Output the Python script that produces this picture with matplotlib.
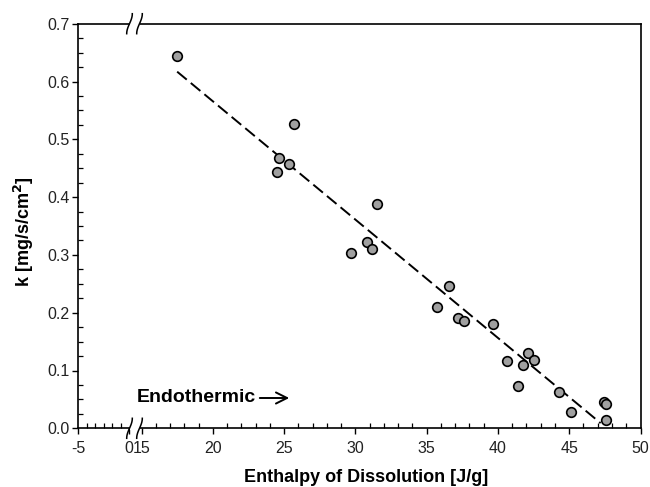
import numpy as np
import matplotlib
matplotlib.use("Agg")
import matplotlib.pyplot as plt
from matplotlib.ticker import FixedLocator, FixedFormatter

plt.rcParams['font.family'] = ['Liberation Sans', 'DejaVu Sans']

# ---- data ----
enthalpy = [17.51, 25.70, 24.67, 25.37, 24.49, 31.51, 30.85, 31.15, 29.70,
            36.60, 35.72, 37.23, 37.65, 39.65, 42.14, 42.54, 40.65, 41.75,
            41.40, 44.28, 45.12, 47.46, 47.60, 47.60]
k_rate = [0.644, 0.526, 0.467, 0.458, 0.443, 0.388, 0.323, 0.311, 0.304,
          0.247, 0.210, 0.191, 0.185, 0.181, 0.130, 0.118, 0.116, 0.110,
          0.074, 0.062, 0.029, 0.045, 0.042, 0.014]
fit_x = [17.5, 47.2]
fit_y = [0.617, 0.009]

x_major = [-5, 0, 15, 20, 25, 30, 35, 40, 45, 50]
x_labels = ['-5', '0', '15', '20', '25', '30', '35', '40', '45', '50']
y_major = [0.0, 0.1, 0.2, 0.3, 0.4, 0.5, 0.6, 0.7]
y_labels = ['0.0', '0.1', '0.2', '0.3', '0.4', '0.5', '0.6', '0.7']

# ---- broken x scale ----
U0 = 14.123     # position of x=0 in scale units
SL = 0.7116     # compression of the left (-5..0) segment
GAP = 15 - U0

def fwd(x):
    x = np.asarray(x, dtype=float)
    return np.where(x <= 0, U0 + SL * x,
                    np.where(x >= 15, x, U0 + x * GAP / 15.0))

def inv(u):
    u = np.asarray(u, dtype=float)
    return np.where(u <= U0, (u - U0) / SL,
                    np.where(u >= 15, u, (u - U0) * 15.0 / GAP))

fig = plt.figure(figsize=(6.5, 4.87), dpi=100)
W, H = 650.0, 487.0
ax = fig.add_axes([78.3 / W, (H - 428.3) / H, 562.2 / W, 404.6 / H])
ax.set_xscale('function', functions=(fwd, inv))
ax.set_xlim(-5, 50)
ax.set_ylim(0, 0.7)

ax.plot(fit_x, fit_y, color='black', lw=1.4, dashes=(6.4, 2.7), zorder=2)
ax.scatter(enthalpy, k_rate, s=48, facecolor='#a0a0a0', edgecolor='black',
           linewidth=1.2, zorder=3)

# ticks
minor_x = list(np.linspace(-5, 0, 7)[1:-1]) + [v for v in range(16, 50) if v % 5]
ax.xaxis.set_major_locator(FixedLocator(x_major))
ax.xaxis.set_major_formatter(FixedFormatter(x_labels))
ax.xaxis.set_minor_locator(FixedLocator(minor_x))
ax.yaxis.set_major_locator(FixedLocator(y_major))
ax.yaxis.set_major_formatter(FixedFormatter(y_labels))
ax.yaxis.set_minor_locator(FixedLocator(np.arange(0, 0.7001, 0.025)))
ax.tick_params(which='major', direction='out', length=4, width=1.0,
               labelsize=11.5, colors='black', labelcolor='#222222')
ax.tick_params(axis='x', which='major', pad=5)
ax.tick_params(axis='y', which='major', pad=2)
ax.tick_params(which='minor', direction='in', length=3.5, width=0.9)
ax.tick_params(top=False, right=False, which='both')
for s in ax.spines.values():
    s.set_linewidth(1.2)

# axis-break marks on bottom and top spines
W_ax, H_ax = 562.2, 404.6
t = np.linspace(-1, 1, 40)
for yb in (0.0, 1.0):
    ax.plot([(129.5 - 78.3) / W_ax, (139.5 - 78.3) / W_ax], [yb, yb],
            transform=ax.transAxes, color='white', lw=3, clip_on=False, zorder=5,
            solid_capstyle='butt')
    for px in (129.5, 139.5):
        xs = (px - 78.3 + 2.8 * np.sin(np.pi * t / 2)) / W_ax
        ys = yb + 10 * t / H_ax
        ax.plot(xs, ys, transform=ax.transAxes, color='black', lw=1.1,
                clip_on=False, zorder=6)

# annotation
fig.text(137 / W, 1 - 398 / H, 'Endothermic', fontsize=14, fontweight='bold',
         ha='left', va='center')
fig.add_artist(matplotlib.patches.FancyArrowPatch(
    (257 / W, 1 - 398 / H), (292 / W, 1 - 398 / H), transform=fig.transFigure,
    arrowstyle='->,head_length=8,head_width=4', color='black', lw=1.4))

fig.text(366 / W, 1 - 477 / H, 'Enthalpy of Dissolution [J/g]', fontsize=13,
         fontweight='bold', ha='center', va='center')
fig.text(24 / W, 1 - 232 / H, 'k [mg/s/cm$^\\mathbf{2}$]', fontsize=13,
         fontweight='bold', ha='center', va='center', rotation=90)

fig.savefig('out.png', dpi=100)
